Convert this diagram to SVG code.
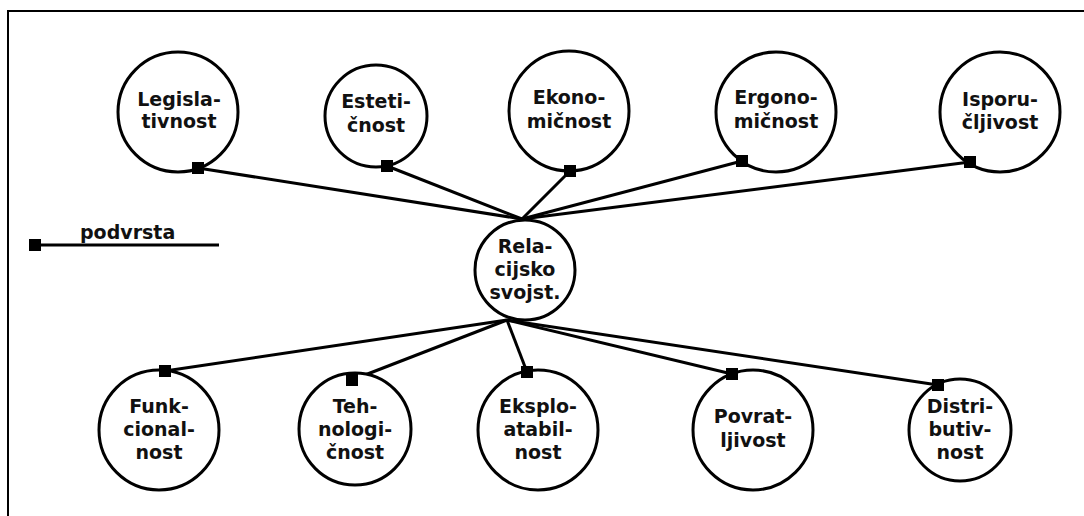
<svg xmlns="http://www.w3.org/2000/svg" width="1084" height="516" viewBox="0 0 1084 516">
<style>
.n{fill:#fff;stroke:#000;stroke-width:3}
.t{font-family:"DejaVu Sans",Verdana,sans-serif;font-weight:bold;font-size:19px;fill:#111;text-anchor:middle}
.c line{stroke:#000;stroke-width:3}
.m{fill:#000}
</style>
<rect x="8" y="11" width="1200" height="600" fill="#fff" stroke="#000" stroke-width="2"/>
<g id="legend">
<line x1="35" y1="245" x2="219" y2="245" stroke="#000" stroke-width="3"/>
<rect class="m" x="29" y="239" width="12" height="12"/>
<text class="t" x="80" y="239" style="text-anchor:start">podvrsta</text>
</g>
<g class="c" id="connectors">
<line x1="198" y1="168" x2="522" y2="219"/>
<line x1="387" y1="166" x2="522" y2="219"/>
<line x1="570" y1="171" x2="522" y2="219"/>
<line x1="742" y1="161" x2="522" y2="219"/>
<line x1="970" y1="162" x2="522" y2="219"/>
<line x1="165" y1="371" x2="507" y2="320"/>
<line x1="352" y1="380" x2="507" y2="320"/>
<line x1="527" y1="372" x2="507" y2="320"/>
<line x1="732" y1="374" x2="507" y2="320"/>
<line x1="938" y1="385" x2="507" y2="320"/>
</g>
<g id="legislativnost"><circle class="n" cx="178" cy="112" r="60"/><text class="t" x="179" y="106">Legisla-</text><text class="t" x="179" y="128">tivnost</text><rect class="m" x="192" y="162" width="12" height="12"/></g>
<g id="esteticnost"><circle class="n" cx="376" cy="116" r="51"/><text class="t" x="376" y="108">Esteti-</text><text class="t" x="376" y="132">čnost</text><rect class="m" x="381" y="160" width="12" height="12"/></g>
<g id="ekonomicnost"><circle class="n" cx="569" cy="111" r="60"/><text class="t" x="569" y="104">Ekono-</text><text class="t" x="569" y="128">mičnost</text><rect class="m" x="564" y="165" width="12" height="12"/></g>
<g id="ergonomicnost"><circle class="n" cx="776" cy="112" r="60"/><text class="t" x="776" y="104">Ergono-</text><text class="t" x="776" y="128">mičnost</text><rect class="m" x="736" y="155" width="12" height="12"/></g>
<g id="isporucljivost"><circle class="n" cx="1000" cy="112" r="60"/><text class="t" x="1000" y="106">Isporu-</text><text class="t" x="1000" y="129">čljivost</text><rect class="m" x="964" y="156" width="12" height="12"/></g>
<g id="relacijsko"><circle class="n" cx="525" cy="270" r="50"/><text class="t" x="525" y="253">Rela-</text><text class="t" x="525" y="276">cijsko</text><text class="t" x="525" y="299">svojst.</text></g>
<g id="funkcionalnost"><circle class="n" cx="159" cy="430" r="60"/><text class="t" x="159" y="413">Funk-</text><text class="t" x="159" y="436">cional-</text><text class="t" x="159" y="459">nost</text><rect class="m" x="159" y="365" width="12" height="12"/></g>
<g id="tehnologicnost"><circle class="n" cx="355" cy="429" r="56"/><text class="t" x="355" y="413">Teh-</text><text class="t" x="355" y="436">nologi-</text><text class="t" x="355" y="459">čnost</text><rect class="m" x="346" y="374" width="12" height="12"/></g>
<g id="eksploatabilnost"><circle class="n" cx="538" cy="430" r="60"/><text class="t" x="538" y="413">Eksplo-</text><text class="t" x="538" y="436">atabil-</text><text class="t" x="538" y="459">nost</text><rect class="m" x="521" y="366" width="12" height="12"/></g>
<g id="povratljivost"><circle class="n" cx="753" cy="430" r="60"/><text class="t" x="753" y="423">Povrat-</text><text class="t" x="753" y="447">ljivost</text><rect class="m" x="726" y="368" width="12" height="12"/></g>
<g id="distributivnost"><circle class="n" cx="960" cy="430" r="51"/><text class="t" x="960" y="413">Distri-</text><text class="t" x="960" y="436">butiv-</text><text class="t" x="960" y="459">nost</text><rect class="m" x="932" y="379" width="12" height="12"/></g>
</svg>
